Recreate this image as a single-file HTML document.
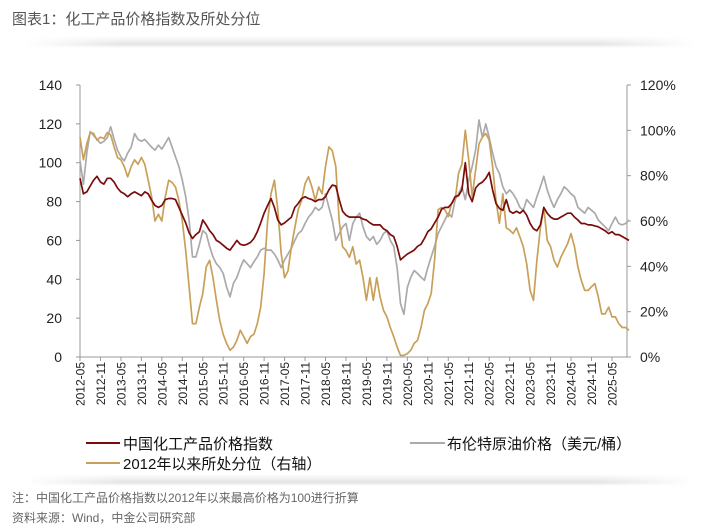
<!DOCTYPE html>
<html><head><meta charset="utf-8">
<style>
body{margin:0;background:#fff;width:713px;height:525px;overflow:hidden;font-family:"Liberation Sans","Noto Sans CJK SC",sans-serif;}
svg text{font-family:"Liberation Sans","Noto Sans CJK SC",sans-serif;}
</style></head>
<body>
<svg width="713" height="525" viewBox="0 0 713 525">
<defs>
<linearGradient id="sh" x1="0" y1="0" x2="0" y2="1"><stop offset="0" stop-color="#fff"/><stop offset="0.7" stop-color="#e4e4e4"/><stop offset="1" stop-color="#fff"/></linearGradient>
<linearGradient id="fadeh" x1="0" y1="0" x2="1" y2="0"><stop offset="0" stop-color="#fff" stop-opacity="1"/><stop offset="0.15" stop-color="#fff" stop-opacity="0"/><stop offset="0.85" stop-color="#fff" stop-opacity="0"/><stop offset="1" stop-color="#fff" stop-opacity="1"/></linearGradient>
</defs>
<text x="12" y="24" font-size="15" fill="#555">图表1：化工产品价格指数及所处分位</text>
<g><rect x="25" y="36" width="670" height="12" fill="url(#sh)"/><rect x="25" y="36" width="670" height="12" fill="url(#fadeh)"/></g>
<g><rect x="25" y="474" width="670" height="12" fill="url(#sh)"/><rect x="25" y="474" width="670" height="12" fill="url(#fadeh)"/></g>
<g id="plot"></g>
<g>
<g><line x1="86" y1="443" x2="120" y2="443" stroke="#7a0c0c" stroke-width="2"/><text x="123" y="449" font-size="15" fill="#111">中国化工产品价格指数</text></g>
<g><line x1="410" y1="443" x2="445" y2="443" stroke="#aaa" stroke-width="2"/><text x="447" y="449" font-size="15" fill="#111">布伦特原油价格（美元/桶）</text></g>
<g><line x1="86" y1="463" x2="120" y2="463" stroke="#c9a05a" stroke-width="2"/><text x="123" y="469" font-size="15" fill="#111">2012年以来所处分位（右轴）</text></g>
</g>
<text x="12" y="502" font-size="12" fill="#666">注：中国化工产品价格指数以2012年以来最高价格为100进行折算</text>
<text x="12" y="522" font-size="12" fill="#666">资料来源：Wind，中金公司研究部</text>
</svg>
<script>
const chemIndex=[92,84,85,88,91,93,90,89,92,92,90,87,85,84,82.5,84,85,84,83,85,84,80.7,78,77,78,81,81.6,81.6,81,77,73,69,64,61,63,64.5,70.5,68,65,63,60,59,57.5,56,55,57.5,60,58,57.5,58,59,61,64.5,69,74,78,81.6,77,70.5,68,69,70.5,72,77,79,81.6,82.5,81.6,81,80,81,81,82.5,86,88.5,88,81,75,73,72,72,72,72,71,70.5,69,68,68,68,66,65,63,62,57,50,51.5,53,54,55,57,58,61,64.5,66,69,72,76,77,77,79,82.5,83,86,100,84,80,87,89,90,92,95,86,79,76.5,75.5,81,75,74,75,74,75.5,73,68.7,66,65,68,77,74,72,71,71,72,73,74,74,72,70.5,68.7,68.7,68,68,67.5,67,66,65,63.5,64.5,63,63,62,61,60];
const brent=[101,89,105,116,114,112,110,111,113,118.5,112,106.5,103,101,105,108,115,112,111,112,110,108,106.5,109,107,110,113,108,103,98,91,82.5,70.5,51.5,51.5,58,65,63.5,57,51.5,48,46,43,36,31,38,41,46,50,48,46,49,51.5,55,56,55,55,53,50,46,50,53,56,60,63.5,65,68.7,72,74,77,75.5,77,84,77,70.5,60,63.5,67,68.7,60,68.7,72,74,67,62,60,62,58,60,63.5,65,60,57,46,27.5,22,36,41,44.5,43,41,39.5,46,51.5,57,63.5,67,70.5,74,72,81,84,87.6,81,91,98,106.5,122,113,120,113,105,98,94.5,87.6,84,86,84,81,77,75.5,81,79,77,82.5,87.6,93,86,81,77,81,84,87.6,86,84,82.5,77,75.5,74,77,75.5,74,70.5,68.7,67,65,68.7,72,68.7,68,68.7,70.5];
const percentile=[97,87,94,99,98.6,95.7,97,96.4,99,98,92.7,88,87,84,79.5,84,87,85,88,85,78,70.7,60,63,60,70.7,78,77,75,69,60,47,31,14.7,14.7,22,28,39.7,42.7,35,25,16,10,6,3,4.4,7.4,11.8,9,6,9,10,14.7,22,36.8,60,72,78,65,45.6,35,38,48.6,57,65,69,76.5,79.5,75,69,75,72,84,92.7,91,84,60,48.6,47,44,48.6,41,42.7,35,25,35,25,35,26.5,20.6,17.7,13,9,4.4,0.7,0.7,1.5,3,6,7.4,13,20.6,23.5,28,42.7,65,66,65,62,68,69,81,85,100,87,70.7,82.4,94,97,98.6,95.7,84,69,59,72,57,56,54.5,57,53,48.6,41,29.4,25,42.7,57,66,51.5,48.6,42.7,39.7,44,47,50,54.5,48.6,39.7,33.8,29.4,29.4,31,32.4,26.5,19,19,22,17.7,17.7,14.7,13,13,11.8];
const leftTicks=[0,20,40,60,80,100,120,140];
const rightTicks=[0,20,40,60,80,100,120];
const xLabels=["2012-05","2012-11","2013-05","2013-11","2014-05","2014-11","2015-05","2015-11","2016-05","2016-11","2017-05","2017-11","2018-05","2018-11","2019-05","2019-11","2020-05","2020-11","2021-05","2021-11","2022-05","2022-11","2023-05","2023-11","2024-05","2024-11","2025-05"];

const NS="http://www.w3.org/2000/svg";
const X0=80,X1=627,Y0=357,Y1=85;
const xs=m=>X0+m*3.41;
const yl=v=>Y0-(v/140)*(Y0-Y1);
const yr=v=>Y0-(v/120)*(Y0-Y1);
const plot=document.getElementById('plot');
function mk(tag,attrs){const e=document.createElementNS(NS,tag);for(const k in attrs)e.setAttribute(k,attrs[k]);return e;}

const axL=mk('line',{x1:X0,y1:Y1,x2:X0,y2:Y0,stroke:'#999','stroke-width':1});


plot.appendChild(axL);
const axR=mk('line',{x1:X1,y1:Y1,x2:X1,y2:Y0,stroke:'#999','stroke-width':1});


plot.appendChild(axR);
const axX=mk('line',{x1:X0,y1:Y0,x2:X1,y2:Y0,stroke:'#999','stroke-width':1});


plot.appendChild(axX);

leftTicks.forEach(v=>{
  plot.appendChild(mk('line',{x1:X0-4,y1:yl(v),x2:X0,y2:yl(v),stroke:'#999'}));
  const t=mk('text',{x:62,y:yl(v)+5,'font-size':14,fill:'#222','text-anchor':'end'});
  t.textContent=v;
  
  
  plot.appendChild(t);
});
rightTicks.forEach(v=>{
  plot.appendChild(mk('line',{x1:X1,y1:yr(v),x2:X1+4,y2:yr(v),stroke:'#999'}));
  const t=mk('text',{x:640,y:yr(v)+5,'font-size':14,fill:'#222'});
  t.textContent=v+'%';
  
  
  plot.appendChild(t);
});
xLabels.forEach((s,i)=>{
  const x=xs(i*6);
  plot.appendChild(mk('line',{x1:x,y1:Y0,x2:x,y2:Y0+4,stroke:'#999'}));
  const t=mk('text',{x:0,y:0,'font-size':12,fill:'#222','text-anchor':'end',transform:`translate(${x+4.5},${Y0+5}) rotate(-90)`});
  t.textContent=s;
  
  
  plot.appendChild(t);
});
function series(arr,yf,color,name){
  const d=arr.map((v,i)=>(i?'L':'M')+xs(i).toFixed(1)+','+yf(v).toFixed(1)).join('');
  const p=mk('path',{d:d,fill:'none',stroke:color,'stroke-width':1.7,'stroke-linejoin':'round'});
  
  
  plot.appendChild(p);
}
series(brent,yl,'#aaaaaa','brent-line');
series(percentile,yr,'#c9a05a','percentile-line');
series(chemIndex,yl,'#7a0c0c','chem-index-line');
</script>
</body></html>
